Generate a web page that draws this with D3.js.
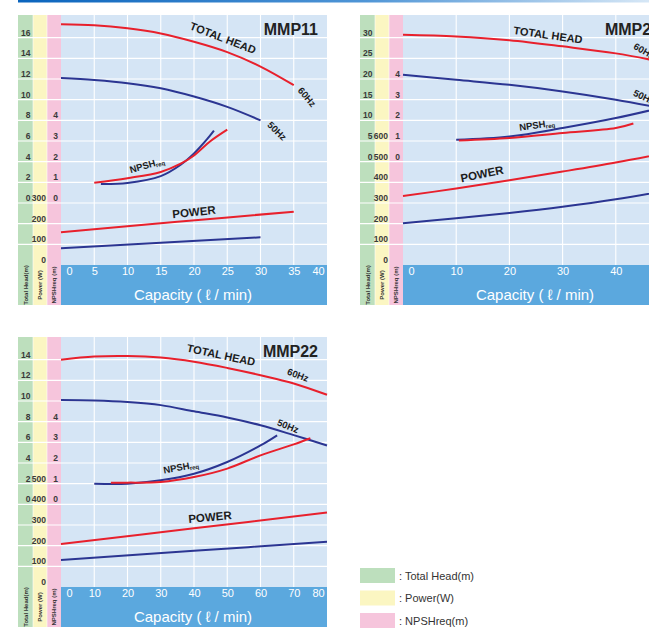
<!DOCTYPE html>
<html>
<head>
<meta charset="utf-8">
<script src="https://d3js.org/d3.v7.min.js"></script>
<style>
  body{margin:0;background:#fff;}
  svg{display:block;}
  .tick text{font-family:"Liberation Sans Narrow","Liberation Sans",Arial,sans-serif;font-weight:bold;}
  .ylab text{font-size:8.5px;fill:#3a3a3a;}
  .xlab text{font-size:11px;fill:#fff;font-weight:normal;font-family:"Liberation Sans",Arial,sans-serif;}
  .cap{font-family:"Liberation Sans",Arial,sans-serif;font-size:15px;fill:#fff;}
  .clab{font-family:"Liberation Sans",Arial,sans-serif;font-weight:bold;fill:#1c1c1c;}
  .title{font-family:"Liberation Sans",Arial,sans-serif;font-weight:bold;font-size:16px;fill:#222;}
  .coltxt{font-family:"Liberation Sans Narrow","Liberation Sans",sans-serif;font-size:6px;font-weight:bold;fill:#333;}
  .legend{font-family:"Liberation Sans",Arial,sans-serif;font-size:11px;fill:#333;}
</style>
</head>
<body>
<div id="chart"></div>
<script>
// ---- MMP11 ----
var mmp11Cap60 = [0, 5, 10, 15, 20, 25, 30, 35];
var mmp11Head60 = [17.3, 17.2, 16.9, 16.4, 15.6, 14.6, 13.2, 11.4];
var mmp11Cap50 = [0, 5, 10, 15, 20, 25, 30];
var mmp11Head50 = [12.1, 11.9, 11.6, 11.1, 10.3, 9.3, 8.0];
var mmp11NpshCap60 = [5, 10, 15, 18, 20, 22.5, 25];
var mmp11Npsh60 = [0.98, 1.2, 1.5, 1.9, 2.3, 3.0, 3.55];
var mmp11NpshCap50 = [6, 10, 15, 18, 20, 22, 23];
var mmp11Npsh50 = [0.92, 0.97, 1.3, 1.85, 2.4, 3.1, 3.5];
var mmp11PowCap60 = [0, 17.5, 35];
var mmp11Pow60 = [158, 209, 258];
var mmp11PowCap50 = [0, 15, 30];
var mmp11Pow50 = [81, 108, 134];

// ---- MMP25 ----
var mmp25Cap = [0, 10, 20, 30, 40, 50];
var mmp25Head60 = [30.7, 30.3, 29.4, 27.9, 26.2, 23.8];
var mmp25Head50 = [21.0, 19.8, 18.6, 17.0, 15.0, 12.6];
var mmp25NpshCap60 = [10.5, 20, 30, 40, 43.3];
var mmp25Npsh60 = [1.03, 1.15, 1.39, 1.63, 1.85];
var mmp25NpshCap50 = [10, 20, 30, 40, 50];
var mmp25Npsh50 = [1.06, 1.22, 1.63, 2.11, 2.7];
var mmp25Pow60 = [334, 370, 410, 452, 496, 545];
var mmp25Pow50 = [202, 226, 252, 282, 318, 362];

// ---- MMP22 ----
var mmp22Cap = [0, 10, 20, 30, 40, 50, 60, 70, 80];
var mmp22Head60 = [14.0, 14.3, 14.35, 14.2, 13.8, 13.2, 12.5, 11.7, 10.6];
var mmp22Head50 = [10.1, 10.05, 9.9, 9.6, 9.0, 8.4, 7.65, 6.7, 5.7];
var mmp22NpshCap60 = [15, 20, 30, 40, 50, 60, 70, 75];
var mmp22Npsh60 = [1.05, 1.05, 1.08, 1.32, 1.73, 2.37, 2.9, 3.2];
var mmp22NpshCap50 = [10, 20, 30, 40, 50, 60, 65];
var mmp22Npsh50 = [1.0, 1.0, 1.16, 1.48, 2.05, 2.85, 3.34];
var mmp22PowCap = [0, 40, 80];
var mmp22Pow60 = [208, 284, 360];
var mmp22Pow50 = [131, 175, 219];

var legendItems = [": Total Head(m)", ": Power(W)", ": NPSHreq(m)"];
var columnNames = ["Total Head(m)", "Power (W)", "NPSHreq (m)"];

var RED = "#e8202c", BLUE = "#2b3592";
var colFill = ["#bddfbd", "#fbf6c2", "#f6c5dc"];
var PW = 266, PH = 250, BAND = 40, colW = [15, 14, 14];

var svg = d3.select("#chart").append("svg").attr("width", 649).attr("height", 630);

var grad = svg.append("defs").append("linearGradient").attr("id", "topline");
grad.append("stop").attr("offset", "0%").attr("stop-color", "#0a64bd");
grad.append("stop").attr("offset", "55%").attr("stop-color", "#4f95d6");
grad.append("stop").attr("offset", "100%").attr("stop-color", "#d6e7f6");
svg.append("rect").attr("x", 18).attr("y", 0).attr("width", 631).attr("height", 2.5).attr("fill", "url(#topline)");

function zip(xs, ys) { return xs.map(function(v, i) { return [v, ys[i]]; }); }

function drawPanel(p) {
  var g = svg.append("g");
  var left = p.x0 + 43, top = p.y0 + 2, bottom = p.y0 + PH;
  var x = d3.scaleLinear().domain([0, p.xMax]).range([left, left + PW]);
  var yH = d3.scaleLinear().domain(p.headDomain).range([bottom, top]);
  var yP = d3.scaleLinear().domain([0, 1200]).range([bottom, top]);
  var yN = d3.scaleLinear().domain(p.npshDomain).range([bottom, top]);

  // side columns
  var cx = p.x0;
  colW.forEach(function(w, i) {
    g.append("rect").attr("x", cx).attr("y", p.y0).attr("width", w).attr("height", PH + BAND).attr("fill", colFill[i]);
    g.append("text").attr("class", "coltxt")
      .attr("transform", "translate(" + (cx + w / 2 + 2) + "," + (bottom + BAND / 2) + ") rotate(-90)")
      .attr("text-anchor", "middle").text(columnNames[i]);
    if (i > 0) g.append("line").attr("x1", cx).attr("x2", cx).attr("y1", p.y0).attr("y2", bottom + BAND)
      .attr("stroke", "#fff").attr("stroke-width", 0.6);
    cx += w;
  });
  g.append("rect").attr("x", left).attr("y", p.y0).attr("width", PW).attr("height", PH).attr("fill", "#d5e5f5");
  g.append("rect").attr("x", left).attr("y", bottom).attr("width", PW).attr("height", BAND).attr("fill", "#5ba8de");

  // grid
  g.selectAll(".hg").data(d3.range(100, 1200, 100)).enter().append("line")
    .attr("x1", p.x0).attr("x2", left + PW).attr("y1", yP).attr("y2", yP)
    .attr("stroke", "#fff").attr("stroke-width", 1.1);
  g.selectAll(".vg").data(p.xTicks.slice(1, -1)).enter().append("line")
    .attr("x1", x).attr("x2", x).attr("y1", p.y0).attr("y2", bottom)
    .attr("stroke", "#fff").attr("stroke-width", 1.1);

  // left labels
  function yAxis(scale, ticks, xr) {
    var a = g.append("g").attr("class", "ylab").attr("transform", "translate(" + xr + ",0)")
      .call(d3.axisLeft(scale).tickValues(ticks).tickSize(0).tickPadding(0));
    a.select(".domain").remove();
    a.selectAll("text").attr("dy", -2.5);
  }
  yAxis(yH, p.headTicks, p.x0 + 12.5);
  yAxis(yP, p.powTicks, p.x0 + 28);
  yAxis(yN, p.npshTicks, p.x0 + 40);

  // x labels
  var xa = g.append("g").attr("class", "xlab").attr("transform", "translate(0," + (bottom + 2) + ")")
    .call(d3.axisBottom(x).tickValues(p.xTicks).tickSize(0).tickPadding(0));
  xa.select(".domain").remove();
  xa.selectAll("text").attr("dx", function(d, i) {
    return d === 0 ? 8 : (d === p.xMax && p.lastShift ? p.lastShift : 0);
  });
  g.append("text").attr("class", "cap").attr("x", left + PW / 2 - 1).attr("y", bottom + 35)
    .attr("text-anchor", "middle").text("Capacity ( \u2113 / min)");

  // curves
  var line = d3.line().curve(d3.curveCatmullRom.alpha(0.5));
  p.series.forEach(function(s) {
    var sc = s.axis === "head" ? yH : (s.axis === "power" ? yP : yN);
    g.append("path").datum(zip(s.cap, s.val))
      .attr("d", line.x(function(d) { return x(d[0]); }).y(function(d) { return sc(d[1]); }))
      .attr("fill", "none").attr("stroke", s.color).attr("stroke-width", 2);
  });

  // title and curve labels
  g.append("text").attr("class", "title").attr("x", left + PW - 9).attr("y", p.y0 + 20)
    .attr("text-anchor", "end").text(p.title);
  p.labels.forEach(function(l) {
    var t = g.append("text").attr("class", "clab").attr("text-anchor", "middle").attr("dy", "0.35em")
      .attr("font-size", l.size || 11)
      .attr("transform", "translate(" + (p.x0 + l.x) + "," + (p.y0 + l.y) + ") rotate(" + l.r + ")");
    if (l.t === "NPSH") {
      t.append("tspan").text("NPSH");
      t.append("tspan").attr("font-size", 6).attr("dy", 1.5).text("req");
    } else t.text(l.t);
  });
}

drawPanel({
  x0: 18, y0: 15, title: "MMP11", xMax: 40, xTicks: d3.range(0, 41, 5), lastShift: -9,
  headDomain: [-6, 18], npshDomain: [-3, 9],
  headTicks: d3.range(0, 17, 2), powTicks: [0, 100, 200, 300], npshTicks: [0, 1, 2, 3, 4],
  series: [
    {axis: "head", cap: mmp11Cap60, val: mmp11Head60, color: RED},
    {axis: "head", cap: mmp11Cap50, val: mmp11Head50, color: BLUE},
    {axis: "npsh", cap: mmp11NpshCap50, val: mmp11Npsh50, color: BLUE},
    {axis: "npsh", cap: mmp11NpshCap60, val: mmp11Npsh60, color: RED},
    {axis: "power", cap: mmp11PowCap60, val: mmp11Pow60, color: RED},
    {axis: "power", cap: mmp11PowCap50, val: mmp11Pow50, color: BLUE}
  ],
  labels: [
    {t: "TOTAL HEAD", x: 205, y: 23, r: 21},
    {t: "60Hz", x: 289, y: 82, r: 50, size: 9.5},
    {t: "50Hz", x: 259, y: 116, r: 45, size: 9.5},
    {t: "NPSH", x: 129, y: 150, r: -16, size: 9.5},
    {t: "POWER", x: 176, y: 197, r: -6, size: 11.5}
  ]
});

drawPanel({
  x0: 360, y0: 15, title: "MMP25", xMax: 50, xTicks: d3.range(0, 51, 10), lastShift: -9,
  headDomain: [-25, 35], npshDomain: [-5, 7],
  headTicks: d3.range(0, 31, 5), powTicks: d3.range(0, 601, 100), npshTicks: [0, 1, 2, 3, 4],
  series: [
    {axis: "head", cap: mmp25Cap, val: mmp25Head60, color: RED},
    {axis: "head", cap: mmp25Cap, val: mmp25Head50, color: BLUE},
    {axis: "npsh", cap: mmp25NpshCap50, val: mmp25Npsh50, color: BLUE},
    {axis: "npsh", cap: mmp25NpshCap60, val: mmp25Npsh60, color: RED},
    {axis: "power", cap: mmp25Cap, val: mmp25Pow60, color: RED},
    {axis: "power", cap: mmp25Cap, val: mmp25Pow50, color: BLUE}
  ],
  labels: [
    {t: "TOTAL HEAD", x: 188, y: 20, r: 8},
    {t: "60Hz", x: 284, y: 36, r: 30, size: 9.5},
    {t: "50Hz", x: 284, y: 82, r: 25, size: 9.5},
    {t: "NPSH", x: 177, y: 110, r: -8, size: 9.5},
    {t: "POWER", x: 122, y: 159, r: -12, size: 11.5}
  ]
});

drawPanel({
  x0: 18, y0: 337, title: "MMP22", xMax: 80, xTicks: d3.range(0, 81, 10), lastShift: -9,
  headDomain: [-8, 16], npshDomain: [-4, 8],
  headTicks: d3.range(0, 15, 2), powTicks: d3.range(0, 501, 100), npshTicks: [0, 1, 2, 3, 4],
  series: [
    {axis: "head", cap: mmp22Cap, val: mmp22Head60, color: RED},
    {axis: "head", cap: mmp22Cap, val: mmp22Head50, color: BLUE},
    {axis: "npsh", cap: mmp22NpshCap50, val: mmp22Npsh50, color: BLUE},
    {axis: "npsh", cap: mmp22NpshCap60, val: mmp22Npsh60, color: RED},
    {axis: "power", cap: mmp22PowCap, val: mmp22Pow60, color: RED},
    {axis: "power", cap: mmp22PowCap, val: mmp22Pow50, color: BLUE}
  ],
  labels: [
    {t: "TOTAL HEAD", x: 203, y: 18, r: 12},
    {t: "60Hz", x: 280, y: 38, r: 20, size: 9.5},
    {t: "50Hz", x: 270, y: 89, r: 22, size: 9.5},
    {t: "NPSH", x: 163, y: 130, r: -10, size: 9.5},
    {t: "POWER", x: 192, y: 180, r: -5, size: 11.5}
  ]
});

// legend
var lg = svg.append("g").attr("transform", "translate(360,568)");
legendItems.forEach(function(txt, i) {
  lg.append("rect").attr("x", 0).attr("y", i * 22.5).attr("width", 35).attr("height", 15).attr("fill", colFill[i]);
  lg.append("text").attr("class", "legend").attr("x", 39).attr("y", i * 22.5 + 11.5).text(txt);
});
</script>
</body>
</html>
